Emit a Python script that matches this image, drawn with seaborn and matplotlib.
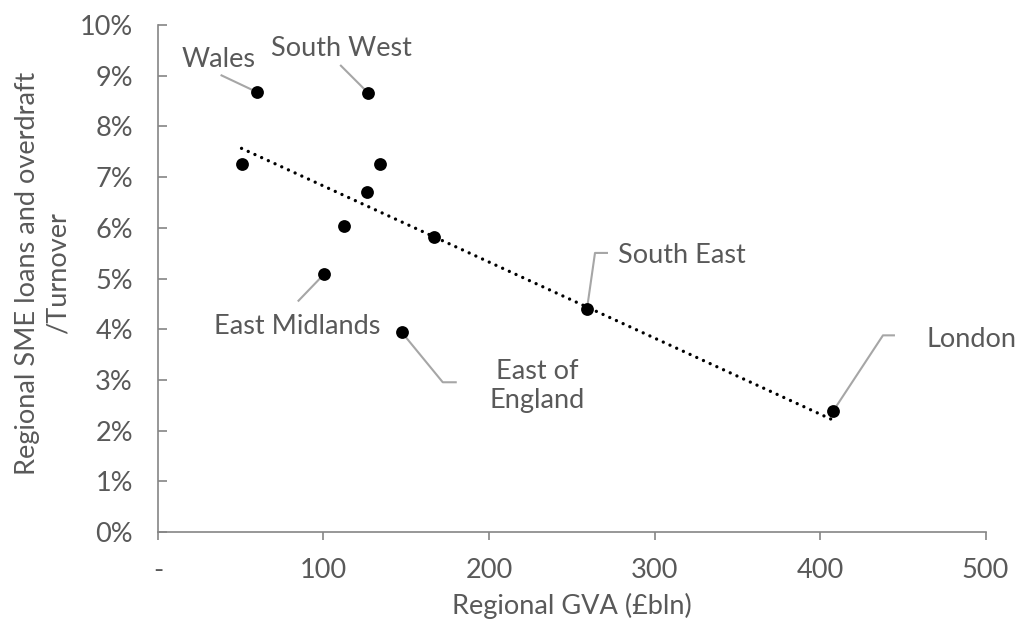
import numpy as np
import pandas as pd
import matplotlib
matplotlib.use('Agg')
import matplotlib.pyplot as plt
from matplotlib.ticker import FuncFormatter
import seaborn as sns

# Regional GVA (£bln) and SME loans+overdraft / turnover (%)
regions = ['Wales', 'South West', 'North East', 'Yorkshire', 'West Midlands',
           'North West', 'Scotland', 'East Midlands', 'East of England',
           'South East', 'London']
gva = [59.6, 127.0, 50.5, 134.0, 126.4, 112.2, 166.8, 100.2, 147.3, 259.2, 407.8]
loan_ratio = [8.68, 8.66, 7.26, 7.26, 6.71, 6.03, 5.81, 5.08, 3.94, 4.40, 2.38]

x_ticks = [0, 100, 200, 300, 400, 500]
x_tick_labels = ['-', '100', '200', '300', '400', '500']
y_ticks = list(range(0, 11))

df = pd.DataFrame({'region': regions, 'gva': gva, 'ratio': loan_ratio})

sns.set_style('white')
plt.rcParams['font.family'] = ['Lato', 'DejaVu Sans']
text_col = '#595959'
axis_col = '#858585'
lead_col = '#a6a6a6'
fs = 19.5

fig = plt.figure(figsize=(10.19, 6.21), dpi=100)
ax = fig.add_axes([0.155, 0.1433, 0.8122, 0.8164])

# trend line
sns.regplot(data=df, x='gva', y='ratio', scatter=False, ci=None, ax=ax,
            line_kws=dict(color='black', lw=2.4, linestyle=(0, (0.01, 2.2)),
                          dash_capstyle='round'))
sns.scatterplot(data=df, x='gva', y='ratio', ax=ax, color='black', s=85,
                edgecolor='black', linewidth=0, zorder=3)

ax.set_xlim(0, 500)
ax.set_ylim(0, 10)
ax.set_xticks(x_ticks)
ax.set_xticklabels(x_tick_labels)
ax.set_yticks(y_ticks)
ax.yaxis.set_major_formatter(FuncFormatter(lambda v, p: f'{v:.0f}%'))

for s in ['top', 'right']:
    ax.spines[s].set_visible(False)
for s in ['left', 'bottom']:
    ax.spines[s].set_color(axis_col)
    ax.spines[s].set_linewidth(1.2)

ax.tick_params(axis='y', direction='in', length=6.5, width=1.2, color=axis_col,
               labelsize=fs, labelcolor=text_col, pad=18)
ax.tick_params(axis='x', direction='out', length=6, width=1.2, color=axis_col,
               labelsize=fs, labelcolor=text_col, pad=12.5)
ax.yaxis.set_ticks_position('left')
ax.xaxis.set_ticks_position('bottom')

ax.set_xlabel('Regional GVA (£bln)', fontsize=fs, color=text_col, labelpad=7.5)
ax.set_ylabel('Regional SME loans and overdraft\n/Turnover', fontsize=fs,
              color=text_col, linespacing=1.3)
ax.yaxis.set_label_coords(-0.105, 0.51, transform=ax.transAxes)
ax.yaxis.label.set_horizontalalignment('center')

# labels with leader lines, offsets in pixels from the point (x right, y up)
labels = {
    'Wales': dict(path=[(0, 0), (-36, 17)], text=(-38, 25), ha='center'),
    'South West': dict(path=[(0, 0), (-28, 28)], text=(-27, 37), ha='center'),
    'East Midlands': dict(path=[(0, 0), (-26, -27)], text=(-27, -60), ha='center'),
    'East of England': dict(path=[(0, 0), (41, -50), (55, -50)], text=(135, -76),
                            ha='center', label='East of\nEngland'),
    'South East': dict(path=[(0, 0), (8, 56), (21, 56)], text=(31, 46), ha='left'),
    'London': dict(path=[(0, 0), (50, 76), (62, 76)], text=(94, 64), ha='left'),
}
inv = ax.transData.inverted()
for _, row in df.iterrows():
    if row['region'] not in labels:
        continue
    cfg = labels[row['region']]
    px, py = ax.transData.transform((row['gva'], row['ratio']))
    pts = inv.transform([(px + dx, py + dy) for dx, dy in cfg['path']])
    ax.plot(pts[:, 0], pts[:, 1], color=lead_col, lw=1.5, zorder=2,
            solid_capstyle='butt')
    tx, ty = inv.transform((px + cfg['text'][0], py + cfg['text'][1]))
    ax.text(tx, ty, cfg.get('label', row['region']), ha=cfg['ha'], va='baseline',
            fontsize=fs, color=text_col, linespacing=1.2)

fig.savefig('out.png', dpi=100)
